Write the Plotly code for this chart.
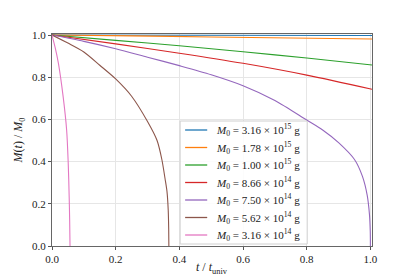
import plotly.graph_objects as go

labels = [
    "3.16 × 10<sup>15</sup>", "1.78 × 10<sup>15</sup>", "1.00 × 10<sup>15</sup>",
    "8.66 × 10<sup>14</sup>", "7.50 × 10<sup>14</sup>", "5.62 × 10<sup>14</sup>",
    "3.16 × 10<sup>14</sup>",
]
colors = ["#1f77b4", "#ff7f0e", "#2ca02c", "#d62728", "#9467bd", "#8c564b", "#e377c2"]

t_blue = [0, 0.5, 1.005]
m_blue = [1.0, 0.999, 0.998]
t_orange = [0, 0.25, 0.5, 0.75, 1.005]
m_orange = [1.0, 0.996, 0.991, 0.986, 0.981]
t_green = [0, 0.2, 0.4, 0.6, 0.8, 1.005]
m_green = [1.0, 0.975, 0.949, 0.921, 0.891, 0.858]
t_red = [0, 0.2, 0.4, 0.6, 0.8, 1.005]
m_red = [1.0, 0.958, 0.914, 0.866, 0.81, 0.743]
t_purple = [0, 0.1, 0.2, 0.3, 0.4, 0.5, 0.6, 0.7, 0.8, 0.85, 0.9, 0.95, 0.975, 0.99, 0.997, 0.9995, 1.0]
m_purple = [1.0, 0.97, 0.935, 0.895, 0.855, 0.812, 0.76, 0.69, 0.597, 0.55, 0.49, 0.41, 0.33, 0.24, 0.15, 0.07, 0.0]
t_brown = [0, 0.05, 0.1, 0.15, 0.2, 0.25, 0.3, 0.33, 0.345, 0.355, 0.361, 0.365, 0.3665, 0.367]
m_brown = [1.0, 0.962, 0.92, 0.857, 0.792, 0.71, 0.59, 0.5, 0.41, 0.32, 0.26, 0.17, 0.08, 0.0]
t_pink = [0, 0.01, 0.02, 0.035, 0.046, 0.051, 0.054, 0.0555, 0.0566]
m_pink = [1.0, 0.94, 0.867, 0.708, 0.549, 0.39, 0.231, 0.12, 0.0]

ticks = [0.0, 0.2, 0.4, 0.6, 0.8, 1.0]
tick_text = ["0.0", "0.2", "0.4", "0.6", "0.8", "1.0"]

series = [(t_blue, m_blue), (t_orange, m_orange), (t_green, m_green), (t_red, m_red),
          (t_purple, m_purple), (t_brown, m_brown), (t_pink, m_pink)]

font = "Liberation Serif, Times New Roman, serif"

fig = go.Figure()
for (t, m), lab, c in zip(series, labels, colors):
    fig.add_trace(go.Scatter(
        x=t, y=m, mode="lines",
        line=dict(color=c, width=1.1, shape="spline", smoothing=0.8),
        name="<i>M</i><sub>0</sub> = " + lab + " g", showlegend=False,
    ))

# legend drawn as layout decoration (paper coordinates)
shapes = [dict(type="rect", xref="paper", yref="paper", x0=0.4004, x1=0.7976,
               y0=0.0094, y1=0.5896, line=dict(color="#d0d0d0", width=1),
               fillcolor="rgba(255,255,255,0.85)", layer="above")]
annotations = []
for i, (lab, c) in enumerate(zip(labels, colors)):
    yy = (246 - (130 + 17.5 * i)) / 212
    shapes.append(dict(type="line", xref="paper", yref="paper", x0=0.416, x1=0.485,
                       y0=yy, y1=yy, line=dict(color=c, width=1.3), layer="above"))
    annotations.append(dict(xref="paper", yref="paper", x=0.507, y=yy, xanchor="left",
                            yanchor="middle", showarrow=False,
                            text="<i>M</i><sub>0</sub> = " + lab + " g",
                            font=dict(family=font, size=11, color="#222222")))
annotations.append(dict(xref="paper", yref="paper", x=0.5, y=-0.104, xanchor="center",
                        yanchor="middle", showarrow=False,
                        text="<i>t</i> / <i>t</i><sub>univ</sub>",
                        font=dict(family=font, size=12, color="#222222")))

axis_common = dict(
    showline=True, linecolor="#666666", linewidth=1.2, mirror=True,
    showgrid=True, gridcolor="#e6e6e6", gridwidth=1,
    ticks="outside", ticklen=3, tickcolor="#555555",
    tickvals=ticks, ticktext=tick_text, zeroline=False, automargin=False,
    tickfont=dict(family=font, size=11, color="#222222"),
)
fig.update_xaxes(range=[0, 1.005], **axis_common)
fig.update_yaxes(range=[0, 1.005], title=dict(text="<i>M</i>(<i>t</i>) / <i>M</i><sub>0</sub>",
                 font=dict(family=font, size=12, color="#222222"), standoff=6), **axis_common)

fig.update_layout(
    width=415, height=277,
    margin=dict(l=44, r=51, t=26, b=39),
    paper_bgcolor="white", plot_bgcolor="white",
    showlegend=False, shapes=shapes, annotations=annotations,
)
fig.write_html("out.html")
